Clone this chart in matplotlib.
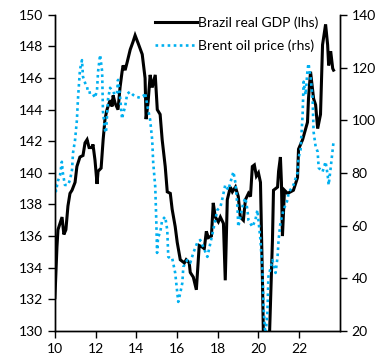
import matplotlib
matplotlib.use("Agg")
import matplotlib.pyplot as plt

plt.rcParams["font.family"] = ["Lato", "DejaVu Sans"]

# Brazil real GDP index (lhs), decimal years 2010 -> 2023.7
gdp_t = [10.00, 10.10, 10.15, 10.35, 10.44, 10.54, 10.64, 10.74, 10.84, 10.99,
         11.08, 11.23, 11.38, 11.48, 11.58, 11.68, 11.82, 11.87, 11.97, 12.07,
         12.12, 12.27, 12.37, 12.46, 12.56, 12.71, 12.81, 12.86, 12.96, 13.10,
         13.20, 13.30, 13.35, 13.45, 13.55, 13.70, 13.84, 13.94, 14.09, 14.29,
         14.43, 14.48, 14.58, 14.68, 14.78, 14.93, 15.03, 15.17, 15.27, 15.42,
         15.52, 15.67, 15.76, 15.91, 16.01, 16.16, 16.36, 16.45, 16.60, 16.65,
         16.80, 16.95, 17.09, 17.24, 17.34, 17.44, 17.54, 17.69, 17.78, 17.88,
         18.03, 18.13, 18.28, 18.37, 18.47, 18.62, 18.72, 18.87, 19.01, 19.11,
         19.26, 19.36, 19.51, 19.61, 19.70, 19.80, 19.90, 20.00, 20.10, 20.20,
         20.30, 20.39, 20.49, 20.69, 20.74, 20.94, 20.99, 21.08, 21.13, 21.18,
         21.28, 21.43, 21.58, 21.72, 21.92, 21.97, 22.17, 22.41, 22.46, 22.56,
         22.71, 22.81, 22.91, 23.05, 23.15, 23.30, 23.40, 23.45, 23.55, 23.65,
         23.69]
gdp = [132.1, 135.3, 136.4, 137.2, 136.1, 136.4, 137.9, 138.7, 138.9, 139.4,
       140.4, 141.0, 141.1, 141.9, 142.1, 141.6, 141.6, 141.8, 140.8, 139.3,
       140.1, 140.3, 142.1, 143.4, 144.0, 144.6, 144.2, 144.9, 144.4, 144.0,
       145.4, 146.4, 146.8, 146.5, 147.0, 147.8, 148.3, 148.7, 148.2, 147.5,
       146.0, 143.4, 144.5, 146.2, 145.4, 146.2, 144.0, 143.7, 142.1, 140.4,
       138.8, 138.7, 137.7, 136.6, 135.6, 134.5, 134.3, 134.5, 134.3, 133.7,
       133.4, 132.6, 135.4, 135.3, 135.2, 136.3, 135.9, 136.0, 138.1, 137.2,
       136.9, 137.2, 136.8, 133.2, 138.3, 139.1, 138.8, 139.1, 138.5, 137.2,
       137.0, 138.3, 138.7, 138.5, 140.4, 140.5, 139.8, 140.0, 139.4, 133.0,
       125.5, 126.0, 127.5, 135.8, 138.9, 139.1, 140.1, 141.0, 139.4, 136.0,
       138.9, 138.7, 138.8, 138.9, 139.7, 141.5, 142.1, 143.2, 144.7, 146.4,
       144.7, 144.3, 142.8, 143.7, 148.1, 149.4, 148.1, 146.8, 147.7, 146.6,
       146.5]

# Brent oil price, USD/bbl (rhs)
oil_t = [10.00, 10.05, 10.15, 10.25, 10.34, 10.39, 10.49, 10.64, 10.74, 10.84,
         10.89, 10.99, 11.08, 11.13, 11.23, 11.33, 11.38, 11.48, 11.58, 11.63,
         11.82, 11.97, 12.07, 12.12, 12.22, 12.32, 12.36, 12.46, 12.51, 12.56,
         12.61, 12.71, 12.86, 12.96, 13.05, 13.10, 13.20, 13.30, 13.35, 13.45,
         13.55, 13.69, 13.84, 13.99, 14.19, 14.33, 14.43, 14.58, 14.68, 14.78,
         14.83, 14.93, 14.98, 15.02, 15.07, 15.17, 15.27, 15.42, 15.52, 15.57,
         15.67, 15.76, 15.91, 16.01, 16.06, 16.16, 16.26, 16.31, 16.50, 16.65,
         16.80, 16.99, 17.14, 17.29, 17.49, 17.64, 17.78, 17.98, 18.13, 18.23,
         18.37, 18.52, 18.77, 18.87, 18.97, 19.01, 19.11, 19.26, 19.36, 19.46,
         19.51, 19.70, 19.85, 19.95, 20.00, 20.10, 20.20, 20.25, 20.34, 20.44,
         20.49, 20.69, 20.84, 20.94, 20.99, 21.08, 21.23, 21.43, 21.48, 21.72,
         21.92, 21.97, 22.07, 22.17, 22.22, 22.32, 22.41, 22.46, 22.56, 22.66,
         22.71, 22.81, 22.91, 22.96, 23.15, 23.30, 23.40, 23.45, 23.55, 23.69]
oil = [76.0, 73.0, 77.0, 79.0, 84.2, 80.0, 75.4, 75.4, 77.3, 81.1,
       87.6, 92.5, 100.0, 107.7, 119.1, 122.8, 116.5, 114.2, 112.7, 110.4,
       110.6, 108.5, 111.5, 118.4, 124.8, 118.5, 103.5, 96.3, 95.2, 101.3,
       108.0, 112.3, 110.8, 109.5, 110.4, 115.3, 108.9, 100.5, 102.5, 105.1,
       110.0, 110.8, 109.6, 108.9, 108.5, 108.9, 110.4, 104.0, 100.1, 92.5,
       83.8, 74.7, 62.1, 49.6, 55.7, 57.2, 62.1, 63.3, 58.3, 48.1,
       47.5, 47.7, 42.0, 34.4, 31.0, 34.4, 38.2, 44.3, 46.9, 45.8,
       49.6, 53.4, 54.5, 51.9, 48.1, 53.4, 58.3, 65.9, 67.0, 70.3,
       75.4, 73.5, 80.4, 76.2, 67.1, 59.5, 63.3, 68.6, 70.5, 65.9,
       62.1, 59.5, 62.1, 65.9, 62.1, 54.5, 42.0, 29.0, 18.0, 26.8,
       40.5, 46.9, 42.0, 48.1, 54.5, 61.0, 65.9, 69.7, 72.4, 75.4,
       80.0, 85.7, 88.7, 102.0, 114.6, 109.6, 119.0, 121.5, 116.5, 108.5,
       95.6, 90.0, 88.0, 81.9, 80.4, 84.2, 79.3, 75.4, 81.9, 91.8]

blue = "#00B0F0"

fig, ax1 = plt.subplots(figsize=(3.84, 3.62), dpi=100)
fig.subplots_adjust(left=0.143, right=0.885, top=0.959, bottom=0.086)

ax1.plot(gdp_t, gdp, color="black", lw=2.2, label="Brazil real GDP (lhs)",
         solid_joinstyle="miter")
ax1.set_xlim(10, 24)
ax1.set_ylim(130, 150)
ax1.set_xticks(range(10, 24, 2))
ax1.set_yticks(range(130, 151, 2))
ax1.spines["top"].set_visible(False)

ax2 = ax1.twinx()
ax2.plot(oil_t, oil, color=blue, lw=1.9, ls=(0, (1, 1.3)),
         label="Brent oil price (rhs)")
ax2.set_ylim(20, 140)
ax2.set_yticks(range(20, 141, 20))
ax2.spines["top"].set_visible(False)

for ax in (ax1, ax2):
    ax.tick_params(direction="out", length=5, width=1, labelsize=10,
                   colors="black")
    for s in ax.spines.values():
        s.set_linewidth(1)
ax1.tick_params(axis="x", pad=4)

lines = ax1.get_lines() + ax2.get_lines()
ax2.legend(lines, [l.get_label() for l in lines], loc="upper right",
           bbox_to_anchor=(0.97, 1.035), frameon=False, fontsize=10,
           handlelength=3.0, handletextpad=0.1, labelspacing=0.75)

fig.savefig("out.png", dpi=100)
